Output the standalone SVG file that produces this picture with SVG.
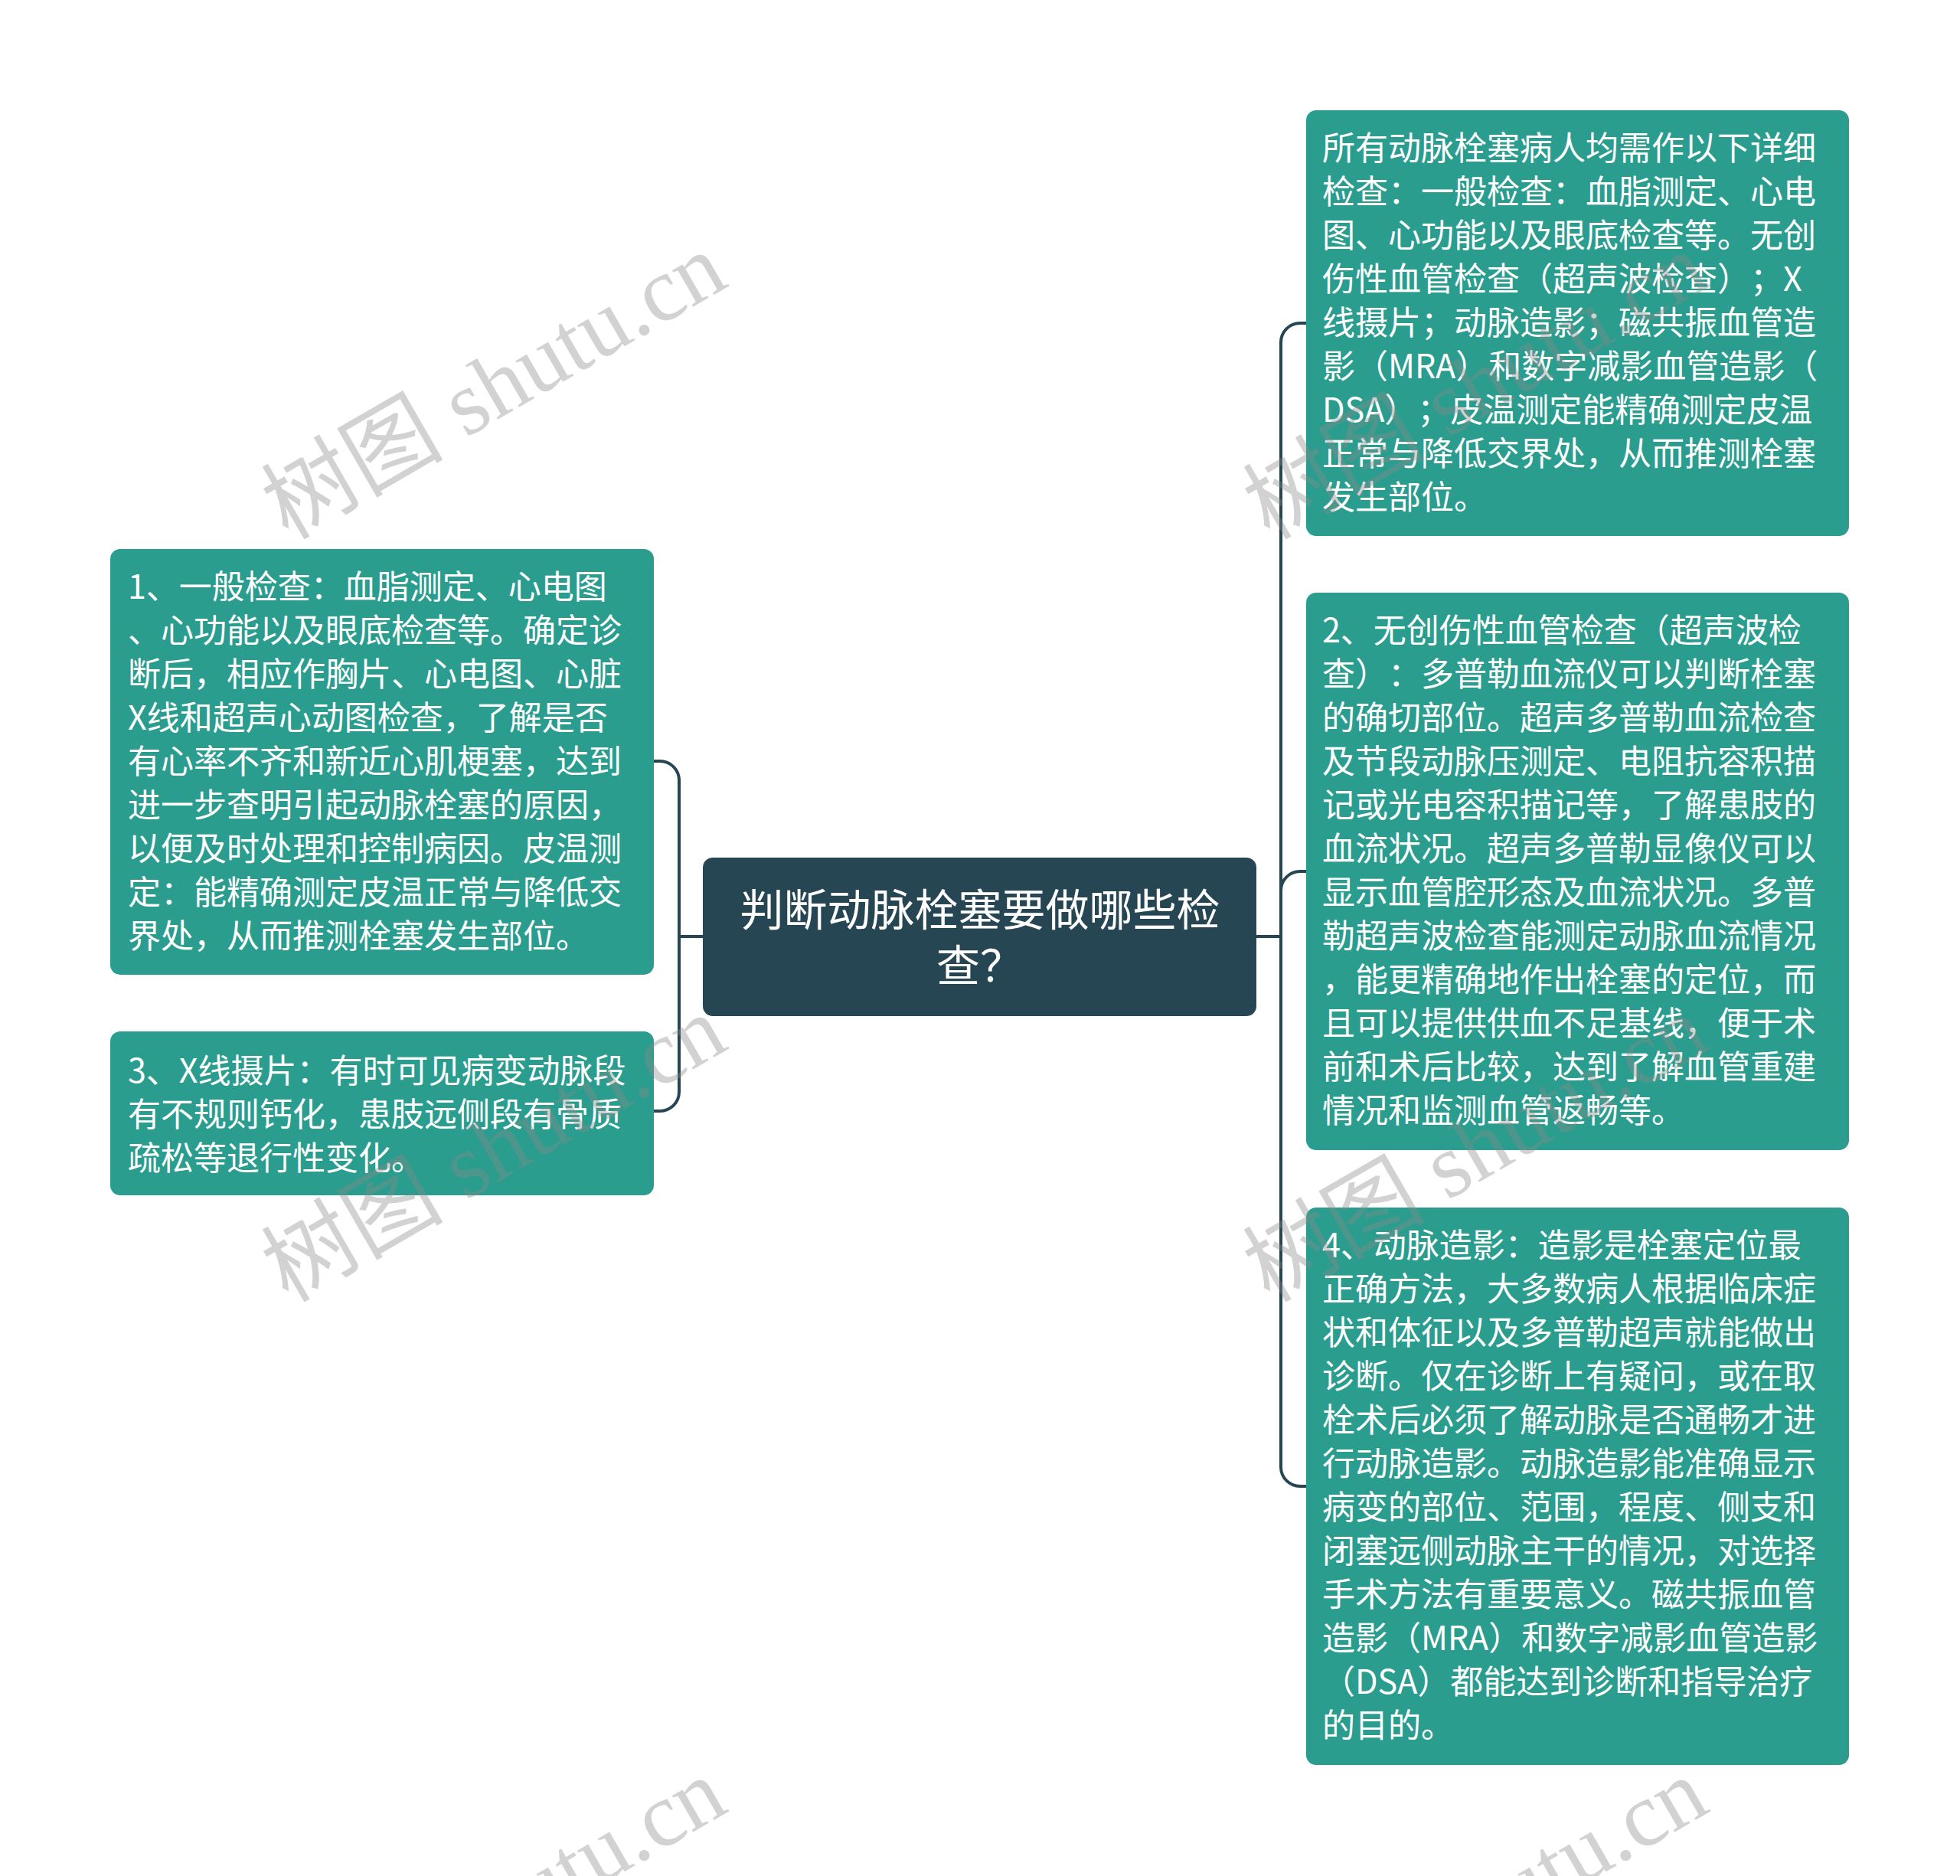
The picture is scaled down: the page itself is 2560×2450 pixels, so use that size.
<svg xmlns="http://www.w3.org/2000/svg" width="2560" height="2450" viewBox="0 0 2560 2450">
<style>
.bg{fill:#ffffff}
.node{fill:#2a9d8f}
.root{fill:#264653}
.t{font-family:"Noto Sans CJK SC","Noto Sans",sans-serif;font-size:43px;fill:#ffffff;text-spacing-trim:space-all}
.rt{font-family:"Noto Sans CJK SC","Noto Sans",sans-serif;font-size:57px;fill:#ffffff;text-anchor:middle;text-spacing-trim:space-all}
.conn{fill:none;stroke:#264653;stroke-width:4;stroke-linecap:round;stroke-linejoin:round}
.wm{font-family:"Liberation Serif","Noto Sans CJK SC",serif;font-size:119px;fill:#8a8a8a;fill-opacity:0.38}
</style>
<rect class="bg" x="0" y="0" width="2560" height="2450"/>
<g id="connectors">
<path class="conn" d="M918 1223 H887 V1019 A25 25 0 0 0 862 994 H854"/>
<path class="conn" d="M887 1223 V1426 A25 25 0 0 1 862 1451 H854"/>
<path class="conn" d="M1641 1223 H1673 V447 A25 25 0 0 1 1698 422 H1706"/>
<path class="conn" d="M1673 1223 V1163 A25 25 0 0 1 1698 1138 H1706"/>
<path class="conn" d="M1673 1223 V1916 A25 25 0 0 0 1698 1941 H1706"/>
</g>
<g id="root">
<rect class="root" x="918" y="1120" width="723" height="207" rx="13"/>
<text class="rt" x="1280" y="1209">判断动脉栓塞要做哪些检</text>
<text class="rt" x="1280" y="1282">查？</text>
</g>
<g id="node1">
<rect class="node" x="144" y="717" width="710" height="556" rx="13"/>
<text class="t" x="167" y="782">1、一般检查：血脂测定、心电图</text>
<text class="t" x="167" y="839">、心功能以及眼底检查等。确定诊</text>
<text class="t" x="167" y="896">断后，相应作胸片、心电图、心脏</text>
<text class="t" x="167" y="953">X线和超声心动图检查，了解是否</text>
<text class="t" x="167" y="1010">有心率不齐和新近心肌梗塞，达到</text>
<text class="t" x="167" y="1067">进一步查明引起动脉栓塞的原因，</text>
<text class="t" x="167" y="1124">以便及时处理和控制病因。皮温测</text>
<text class="t" x="167" y="1181">定：能精确测定皮温正常与降低交</text>
<text class="t" x="167" y="1238">界处，从而推测栓塞发生部位。</text>
</g>
<g id="node3">
<rect class="node" x="144" y="1347" width="710" height="214" rx="13"/>
<text class="t" x="167" y="1414">3、X线摄片：有时可见病变动脉段</text>
<text class="t" x="167" y="1471">有不规则钙化，患肢远侧段有骨质</text>
<text class="t" x="167" y="1528">疏松等退行性变化。</text>
</g>
<g id="node0">
<rect class="node" x="1706" y="144" width="709" height="556" rx="13"/>
<text class="t" x="1727" y="209">所有动脉栓塞病人均需作以下详细</text>
<text class="t" x="1727" y="266">检查：一般检查：血脂测定、心电</text>
<text class="t" x="1727" y="323">图、心功能以及眼底检查等。无创</text>
<text class="t" x="1727" y="380">伤性血管检查（超声波检查）；X</text>
<text class="t" x="1727" y="437">线摄片；动脉造影；磁共振血管造</text>
<text class="t" x="1727" y="494">影（MRA）和数字减影血管造影（</text>
<text class="t" x="1727" y="551">DSA）；皮温测定能精确测定皮温</text>
<text class="t" x="1727" y="608">正常与降低交界处，从而推测栓塞</text>
<text class="t" x="1727" y="665">发生部位。</text>
</g>
<g id="node2">
<rect class="node" x="1706" y="774" width="709" height="728" rx="13"/>
<text class="t" x="1727" y="839">2、无创伤性血管检查（超声波检</text>
<text class="t" x="1727" y="896">查）：多普勒血流仪可以判断栓塞</text>
<text class="t" x="1727" y="953">的确切部位。超声多普勒血流检查</text>
<text class="t" x="1727" y="1010">及节段动脉压测定、电阻抗容积描</text>
<text class="t" x="1727" y="1067">记或光电容积描记等，了解患肢的</text>
<text class="t" x="1727" y="1124">血流状况。超声多普勒显像仪可以</text>
<text class="t" x="1727" y="1181">显示血管腔形态及血流状况。多普</text>
<text class="t" x="1727" y="1238">勒超声波检查能测定动脉血流情况</text>
<text class="t" x="1727" y="1295">，能更精确地作出栓塞的定位，而</text>
<text class="t" x="1727" y="1352">且可以提供供血不足基线，便于术</text>
<text class="t" x="1727" y="1409">前和术后比较，达到了解血管重建</text>
<text class="t" x="1727" y="1466">情况和监测血管返畅等。</text>
</g>
<g id="node4">
<rect class="node" x="1706" y="1577" width="709" height="728" rx="13"/>
<text class="t" x="1727" y="1642">4、动脉造影：造影是栓塞定位最</text>
<text class="t" x="1727" y="1699">正确方法，大多数病人根据临床症</text>
<text class="t" x="1727" y="1756">状和体征以及多普勒超声就能做出</text>
<text class="t" x="1727" y="1813">诊断。仅在诊断上有疑问，或在取</text>
<text class="t" x="1727" y="1870">栓术后必须了解动脉是否通畅才进</text>
<text class="t" x="1727" y="1927">行动脉造影。动脉造影能准确显示</text>
<text class="t" x="1727" y="1984">病变的部位、范围，程度、侧支和</text>
<text class="t" x="1727" y="2041">闭塞远侧动脉主干的情况，对选择</text>
<text class="t" x="1727" y="2098">手术方法有重要意义。磁共振血管</text>
<text class="t" x="1727" y="2155">造影（MRA）和数字减影血管造影</text>
<text class="t" x="1727" y="2212">（DSA）都能达到诊断和指导治疗</text>
<text class="t" x="1727" y="2269">的目的。</text>
</g>
<g id="watermarks">
<text class="wm" transform="translate(376 706) rotate(-30)">树图 shutu.cn</text>
<text class="wm" transform="translate(1658 706) rotate(-30)">树图 shutu.cn</text>
<text class="wm" transform="translate(376 1702) rotate(-30)">树图 shutu.cn</text>
<text class="wm" transform="translate(1658 1702) rotate(-30)">树图 shutu.cn</text>
<text class="wm" transform="translate(376 2698) rotate(-30)">树图 shutu.cn</text>
<text class="wm" transform="translate(1658 2698) rotate(-30)">树图 shutu.cn</text>
</g>
</svg>
